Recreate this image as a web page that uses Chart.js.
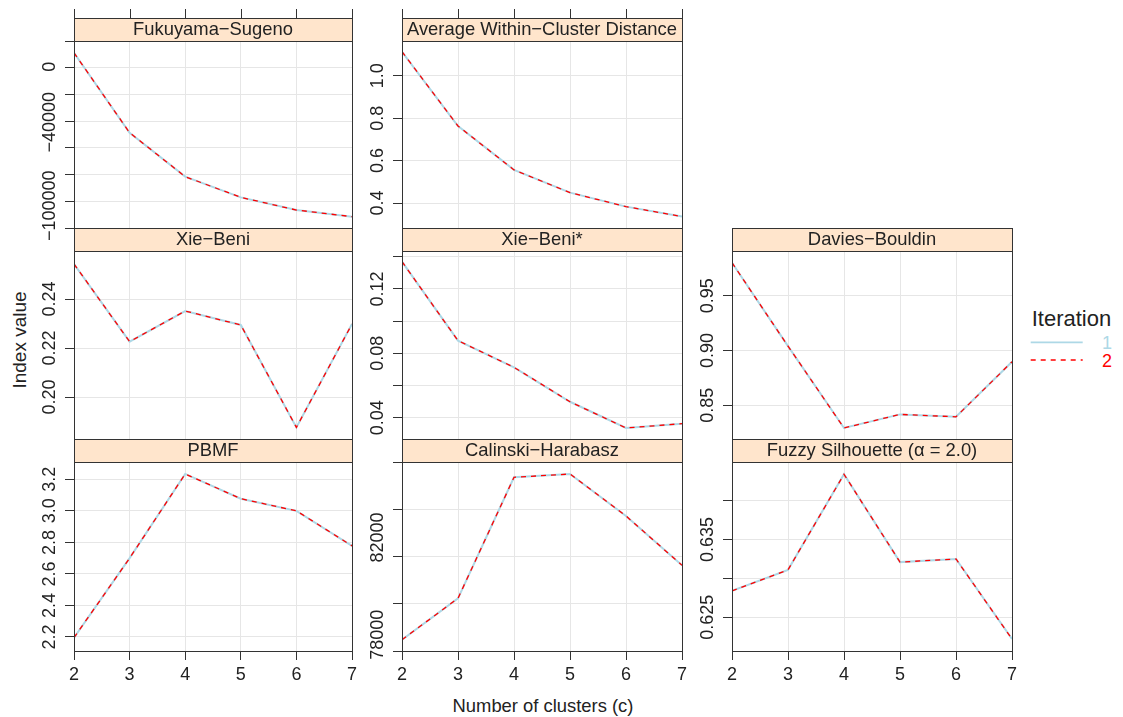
<!DOCTYPE html>
<html><head><meta charset="utf-8">
<script src="https://cdn.jsdelivr.net/npm/chart.js@4.4.1/dist/chart.umd.min.js"></script>
<style>
html,body{margin:0;padding:0;background:#fff;}
#wrap{position:relative;width:1123px;height:717px;overflow:hidden;font-family:'Liberation Sans',Arial,sans-serif;color:#222;}
canvas{position:absolute;}
.t{position:absolute;white-space:nowrap;line-height:1;}
</style></head><body><div id="wrap">
<div class="t" style="left:19px;top:340px;font-size:19px;transform:translate(-50%,-50%) rotate(-90deg);">Index value</div>
<div class="t" style="left:543px;top:706px;font-size:18.4px;transform:translate(-50%,-50%);">Number of clusters (c)</div>
<svg style="position:absolute;left:1020px;top:295px;" width="103" height="80" font-family="'Liberation Sans',Arial,sans-serif">
  <text x="11.7" y="30.6" font-size="22" fill="#222">Iteration</text>
  <line x1="10.7" y1="47.3" x2="62.7" y2="47.3" stroke="#ADD8E6" stroke-width="1.8"/>
  <line x1="10.7" y1="65" x2="62.7" y2="65" stroke="#FF0000" stroke-width="1.5" stroke-dasharray="5,5"/>
  <text x="87" y="53.5" font-size="18" fill="#ADD8E6" text-anchor="middle">1</text>
  <text x="87" y="71.5" font-size="18" fill="#FF0000" text-anchor="middle">2</text>
</svg>
</div>
<script>
// ---- data ----
const clusters = [2, 3, 4, 5, 6, 7];
const xTickLabels = ['2', '3', '4', '5', '6', '7'];

const fukuyamaSugeno1 = [10000, -47500, -79100, -94000, -103100, -107900];
const fukuyamaSugeno2 = [10000, -47500, -79100, -94000, -103100, -107900];
const avgWithinDist1 = [1.113, 0.763, 0.556, 0.449, 0.383, 0.336];
const avgWithinDist2 = [1.113, 0.763, 0.556, 0.449, 0.383, 0.336];
const xieBeni1 = [0.2543, 0.2226, 0.2351, 0.2294, 0.1876, 0.2298];
const xieBeni2 = [0.2543, 0.2226, 0.2351, 0.2294, 0.1876, 0.2298];
const xieBeniStar1 = [0.137, 0.0879, 0.0713, 0.0499, 0.0336, 0.0363];
const xieBeniStar2 = [0.137, 0.0879, 0.0713, 0.0499, 0.0336, 0.0363];
const daviesBouldin1 = [0.9801, 0.904, 0.8293, 0.8417, 0.8395, 0.8897];
const daviesBouldin2 = [0.9801, 0.904, 0.8293, 0.8417, 0.8395, 0.8897];
const pbmf1 = [2.196, 2.70, 3.234, 3.077, 3.0, 2.778];
const pbmf2 = [2.196, 2.70, 3.234, 3.077, 3.0, 2.778];
const calinskiHarabasz1 = [77794, 79499, 84482, 84618, 82888, 80859];
const calinskiHarabasz2 = [77794, 79499, 84482, 84618, 82888, 80859];
const fuzzySilhouette1 = [0.6284, 0.6311, 0.6434, 0.6321, 0.6325, 0.6222];
const fuzzySilhouette2 = [0.6284, 0.6311, 0.6434, 0.6321, 0.6325, 0.6222];

const fsTickValues = [0, -40000, -100000];
const fsTickLabels = ['0', '\u221240000', '\u2212100000'];
const awcdTickValues = [0.4, 0.6, 0.8, 1.0];
const awcdTickLabels = ['0.4', '0.6', '0.8', '1.0'];
const xbTickValues = [0.20, 0.22, 0.24];
const xbTickLabels = ['0.20', '0.22', '0.24'];
const xbsTickValues = [0.04, 0.08, 0.12];
const xbsTickLabels = ['0.04', '0.08', '0.12'];
const dbTickValues = [0.85, 0.90, 0.95];
const dbTickLabels = ['0.85', '0.90', '0.95'];
const pbmfTickValues = [2.2, 2.4, 2.6, 2.8, 3.0, 3.2];
const pbmfTickLabels = ['2.2', '2.4', '2.6', '2.8', '3.0', '3.2'];
const chTickValues = [78000, 82000];
const chTickLabels = ['78000', '82000'];
const fsilTickValues = [0.625, 0.635];
const fsilTickLabels = ['0.625', '0.635'];

const iterationColors = ['#ADD8E6', '#FF0000'];

// ---- layout ----
const cols = [[74, 352], [402, 682], [732, 1012]];
const rows = [[41, 228], [251, 440], [462, 651]];

const panels = [
  {title: 'Fukuyama\u2212Sugeno', col: 0, row: 0, s1: fukuyamaSugeno1, s2: fukuyamaSugeno2, min: -116043, max: 18489, step: 20000, tv: fsTickValues, tl: fsTickLabels},
  {title: 'Average Within\u2212Cluster Distance', col: 1, row: 0, s1: avgWithinDist1, s2: avgWithinDist2, min: 0.2822, max: 1.1636, step: 0.2, tv: awcdTickValues, tl: awcdTickLabels},
  {title: 'Xie\u2212Beni', col: 0, row: 1, s1: xieBeni1, s2: xieBeni2, min: 0.18245, max: 0.2596, step: 0.02, tv: xbTickValues, tl: xbTickLabels},
  {title: 'Xie\u2212Beni*', col: 1, row: 1, s1: xieBeniStar1, s2: xieBeniStar2, min: 0.02614, max: 0.14362, step: 0.02, tv: xbsTickValues, tl: xbsTickLabels},
  {title: 'Davies\u2212Bouldin', col: 2, row: 1, s1: daviesBouldin1, s2: daviesBouldin2, min: 0.81834, max: 0.99078, step: 0.05, tv: dbTickValues, tl: dbTickLabels},
  {title: 'PBMF', col: 0, row: 2, s1: pbmf1, s2: pbmf2, min: 2.1112, max: 3.3097, step: 0.2, tv: pbmfTickValues, tl: pbmfTickLabels},
  {title: 'Calinski\u2212Harabasz', col: 1, row: 2, s1: calinskiHarabasz1, s2: calinskiHarabasz2, min: 77329, max: 85112, step: 2000, tv: chTickValues, tl: chTickLabels},
  {title: 'Fuzzy Silhouette (\u03b1 = 2.0)', col: 2, row: 2, s1: fuzzySilhouette1, s2: fuzzySilhouette2, min: 0.62066, max: 0.64498, step: 0.005, tv: fsilTickValues, tl: fsilTickLabels}
];

Chart.defaults.font.family = "'Liberation Sans', Arial, sans-serif";
Chart.defaults.color = '#222';

const FONT = "18.4px 'Liberation Sans', Arial, sans-serif";
const STRIP_H = 23, TOP_PAD = 35, LEFT_W = 70, RIGHT_PAD = 10, EXTRA_BOTTOM = 30;

const deco = {
  id: 'deco',
  afterDraw(chart, args, o) {
    const ctx = chart.ctx, a = chart.chartArea;
    const xs = chart.scales.x, ys = chart.scales.y;
    ctx.save();
    ctx.lineWidth = 1;
    ctx.strokeStyle = '#333';
    // panel box
    ctx.strokeRect(a.left + 0.5, a.top + 0.5, a.right - a.left, a.bottom - a.top);
    // strip
    const st = a.top - STRIP_H;
    ctx.fillStyle = '#FFE5CC';
    ctx.fillRect(a.left, st, a.right - a.left, STRIP_H);
    ctx.strokeRect(a.left + 0.5, st + 0.5, a.right - a.left, STRIP_H);
    ctx.fillStyle = '#222';
    ctx.font = FONT;
    ctx.textAlign = 'center';
    ctx.textBaseline = 'middle';
    ctx.fillText(o.title, (a.left + a.right) / 2, st + STRIP_H / 2 + 0.5);
    // top ticks
    if (o.topTicks) {
      ctx.beginPath();
      clusters.forEach(c => {
        const px = Math.round(xs.getPixelForValue(c)) + 0.5;
        ctx.moveTo(px, st);
        ctx.lineTo(px, st - 9);
      });
      ctx.stroke();
    }
    // rotated y tick labels
    ctx.font = "18px 'Liberation Sans', Arial, sans-serif";
    o.tv.forEach((v, i) => {
      const py = ys.getPixelForValue(v);
      ctx.save();
      ctx.translate(a.left - 24, py);
      ctx.rotate(-Math.PI / 2);
      ctx.textAlign = 'center';
      ctx.textBaseline = 'middle';
      ctx.fillText(o.tl[i], 0, 0);
      ctx.restore();
    });
    ctx.restore();
  }
};

const wrap = document.getElementById('wrap');
panels.forEach(p => {
  const [l, r] = cols[p.col];
  const [t, b] = rows[p.row];
  const bottomRow = p.row === 2;
  const bottomH = bottomRow ? 40 : 2;
  const extra = bottomRow ? 10 : EXTRA_BOTTOM;
  const cv = document.createElement('canvas');
  const W = (r - l) + LEFT_W + RIGHT_PAD;
  const H = (b - t) + TOP_PAD + bottomH + extra;
  cv.width = W; cv.height = H;
  cv.style.left = (l - LEFT_W) + 'px';
  cv.style.top = (t - TOP_PAD) + 'px';
  cv.style.width = W + 'px';
  cv.style.height = H + 'px';
  wrap.appendChild(cv);
  new Chart(cv, {
    type: 'line',
    data: {
      datasets: [
        {label: '1', data: clusters.map((c, i) => ({x: c, y: p.s1[i]})), borderColor: iterationColors[0], borderWidth: 2, pointRadius: 0, tension: 0, order: 2},
        {label: '2', data: clusters.map((c, i) => ({x: c, y: p.s2[i]})), borderColor: iterationColors[1], borderWidth: 1.3, borderDash: [5, 5], pointRadius: 0, tension: 0, order: 1}
      ]
    },
    options: {
      responsive: false,
      animation: false,
      devicePixelRatio: 1,
      layout: {padding: {left: 0, right: RIGHT_PAD, top: TOP_PAD, bottom: extra}},
      plugins: {
        legend: {display: false},
        tooltip: {enabled: false},
        deco: {title: p.title, tv: p.tv, tl: p.tl, topTicks: p.row === 0}
      },
      scales: {
        x: {
          type: 'linear', min: 2, max: 7,
          ticks: {
            stepSize: 1, display: bottomRow, padding: 4,
            font: {size: 18}, color: '#222', maxRotation: 0,
            callback: (v) => xTickLabels[clusters.indexOf(v)] ?? ''
          },
          grid: {color: '#E6E6E6', lineWidth: 1, drawTicks: bottomRow, tickLength: 9, tickColor: '#333'},
          border: {display: true, color: '#333'},
          afterFit: s => { s.height = bottomH; s.paddingLeft = 0; s.paddingRight = 0; }
        },
        y: {
          type: 'linear', min: p.min, max: p.max,
          ticks: {stepSize: p.step, display: false, includeBounds: false},
          grid: {color: '#E6E6E6', lineWidth: 1, drawTicks: true, tickLength: 9, tickColor: '#333'},
          border: {display: true, color: '#333'},
          afterFit: s => { s.width = LEFT_W; s.paddingTop = 0; s.paddingBottom = 0; }
        }
      }
    },
    plugins: [deco]
  });
});
</script>
</body></html>
